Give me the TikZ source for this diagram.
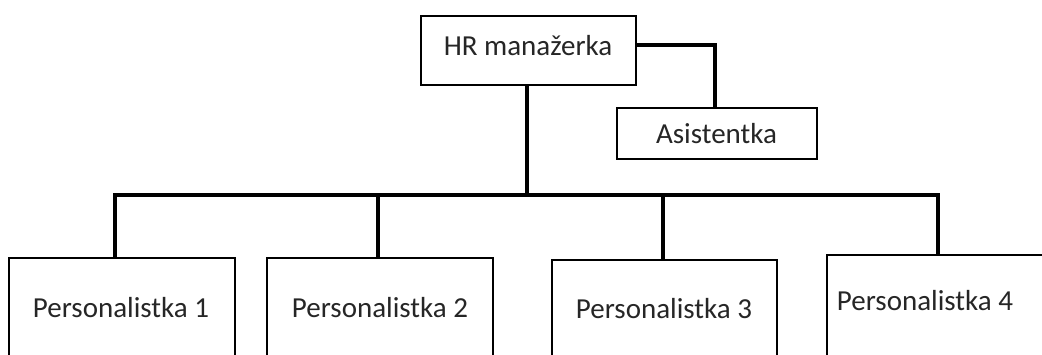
\documentclass[tikz,border=0pt]{standalone}
\usepackage{fontspec}
\setmainfont{Carlito}
\begin{document}
\begin{tikzpicture}[x=1pt,y=-1pt,
  boxx/.style={draw=black,line width=2pt,fill=white,inner sep=0pt},
  lbl/.style={font=\fontsize{29}{34}\selectfont,text=black!85,inner sep=0pt,anchor=base},
  conn/.style={draw=black,line width=4.5pt}]
\useasboundingbox (0,0) rectangle (1042,354);
\clip (0,0) rectangle (1042,354);
% boxes
\node[boxx,minimum width=215pt,minimum height=69pt] (hr) at (528.5,50.5) {};
\node[boxx,minimum width=200pt,minimum height=51pt] (as) at (717,133.5) {};
\node[boxx,minimum width=226pt,minimum height=140pt] (p1) at (122,328) {};
\node[boxx,minimum width=226pt,minimum height=140pt] (p2) at (380,328) {};
\node[boxx,minimum width=225pt,minimum height=140pt] (p3) at (664.5,330) {};
\node[boxx,minimum width=240pt,minimum height=140pt] (p4) at (947,325) {};
% labels
\node[lbl] (hrt) at (528,55) {HR manažerka};
\node[lbl] (ast) at (716.5,143) {Asistentka};
\node[lbl] (p1t) at (121,317) {Personalistka 1};
\node[lbl] (p2t) at (380,317) {Personalistka 2};
\node[lbl] (p3t) at (664,318) {Personalistka 3};
\node[lbl] (p4t) at (925,310) {Personalistka 4};
% connectors
\coordinate (bl) at (115,195);
\coordinate (br) at (938,195);
\coordinate (hb) at (527,195);
\draw[conn] (hr.south -| hb) -- (hb);
\draw[conn] (hr.east |- 0,45) -| (as.north -| 715,0);
\draw[conn,line join=miter] (p1.north -| bl) -- (bl) -- (br) -- (p4.north -| br);
\draw[conn] (p2.north -| 378,0) -- (378,195);
\draw[conn] (p3.north -| 663,0) -- (663,195);
\end{tikzpicture}
\end{document}
